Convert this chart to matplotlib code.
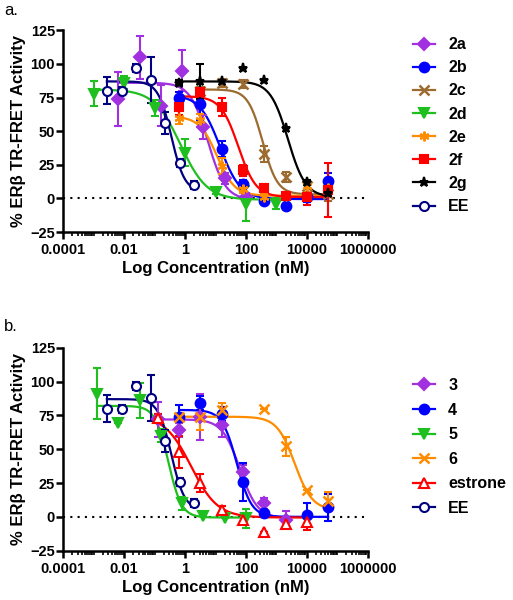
import numpy as np
import matplotlib.pyplot as plt
from matplotlib.lines import Line2D
from matplotlib.ticker import FixedLocator, NullFormatter

plt.rcParams['font.family'] = ['Liberation Sans', 'DejaVu Sans']
plt.rcParams['font.weight'] = 'bold'

# ---- panel a data: concentration (nM), % activity, SD ----
a2a_x = [0.0064, 0.032, 0.16, 0.8, 4, 20, 100]
a2a_y = [74, 105, 69, 95, 53, 15, 1]
a2a_e = [20, 16, 15, 15, 9, 4, 3]

a2b_x = [0.64, 3.2, 16, 80, 400, 2000, 10000, 50000]
a2b_y = [75, 70, 37, 11, -2, -6, 1, 13]
a2b_e = [4, 12, 6, 3, 2, 2, 4, 6]

a2c_x = [3.2, 16, 80, 400, 2000, 10000, 50000]
a2c_y = [80, 86, 85, 33, 16, 9, 3]
a2c_e = [3, 3, 3, 6, 4, 5, 5]

a2d_x = [0.001, 0.01, 0.1, 1, 10, 100, 1000]
a2d_y = [78, 86, 67, 34, 5, -4, -4]
a2d_e = [9, 5, 6, 10, 2, 13, 4]

a2e_x = [0.64, 3.2, 16, 80, 400, 2000, 10000, 50000]
a2e_y = [60, 58, 24, 7, 1, 2, 9, 8]
a2e_e = [5, 5, 6, 3, 2, 2, 4, 5]

a2f_x = [0.64, 3.2, 16, 80, 400, 2000, 10000, 50000]
a2f_y = [68, 79, 68, 21, 8, 1.5, 1, 6]
a2f_e = [6, 8, 7, 4, 3, 3, 6, 20]

a2g_x = [0.64, 3.2, 16, 80, 400, 2000, 10000, 50000]
a2g_y = [86, 87, 87, 97, 88, 52, 12, 4]
a2g_e = [2, 13, 0, 0, 0, 0, 2, 2]

ee_x = [0.0027, 0.0082, 0.025, 0.074, 0.22, 0.67, 2]
ee_y = [80, 80, 97, 88, 56, 26, 10]
ee_e = [10, 3, 3, 17, 8, 3, 3]

# ---- panel b data ----
b3_x = [0.128, 0.64, 3.2, 16, 80, 400, 2000]
b3_y = [72, 64, 74, 68, 33, 10, -2]
b3_e = [13, 5, 17, 9, 5, 4, 6]

b4_x = [0.64, 3.2, 16, 80, 400, 10000, 50000]
b4_y = [74, 84, 76, 26, 2.5, 1.5, 7]
b4_e = [9, 5, 5, 14, 2, 9, 10]

b5_x = [0.00128, 0.0064, 0.032, 0.16, 0.8, 4, 20, 100]
b5_y = [91, 69, 86, 60, 10, 0.5, -1, -1]
b5_e = [19, 0, 13, 5, 5, 0, 0, 7]

b6_x = [0.64, 3.2, 16, 400, 2000, 10000, 50000]
b6_y = [74, 74, 79, 80, 52, 20, 12]
b6_e = [0, 10, 5, 0, 7, 0, 6]

estrone_x = [0.128, 0.64, 3.2, 16, 80, 400, 2000, 10000]
estrone_y = [73, 48, 25, 5, -2, -11, -5, -4]
estrone_e = [3, 12, 7, 3, 3, 0, 3, 6]

# fitted curves: top, bottom, logIC50, hill
fit_2a = [86, -1, 0.75, 1.5]
fit_2b = [77, -0.5, 1.15, 1.3]
fit_2c = [81, 3, 2.55, 1.8]
fit_2d = [81, -1, -0.15, 1.0]
fit_2e = [61, 2, 1.05, 1.5]
fit_2f = [76, 1, 1.75, 1.5]
fit_2g = [87, 1, 3.38, 1.5]
fit_ee = [87, 5, -0.45, 2.0]
fit_3 = [72, -1, 1.8, 1.5]
fit_4 = [79, 0, 1.7, 1.8]
fit_5 = [82, -0.5, -0.55, 2.0]
fit_6 = [74, 5, 3.6, 1.5]
fit_estrone = [75, -0.5, 0.2, 1.0]

purple = '#A030E0'
blue = '#0000FF'
brown = '#9C6B30'
green = '#1FBF1F'
orange = '#FF8C00'
red = '#FF0000'
navy = '#000080'
asterisk = (6, 2, 0)


def logistic(x, top, bot, logic50, hill):
    return bot + (top - bot) / (1 + 10 ** ((np.log10(x) - logic50) * hill))


def draw_series(ax, x, y, e, fit, color, marker, ms, filled=True, mew=1.5):
    xc = np.logspace(np.log10(min(x)), np.log10(max(x)), 300)
    ax.plot(xc, logistic(xc, *fit), color=color, lw=1.6, zorder=2)
    mfc = color if filled else 'white'
    ax.errorbar(x, y, yerr=e, fmt='none', ecolor=color, elinewidth=1.5,
                capsize=3, capthick=1.5, zorder=3)
    ax.plot(x, y, ls='none', marker=marker, ms=ms, color=color, mfc=mfc,
            mec=color, mew=mew, zorder=4)
    return Line2D([], [], color=color, lw=1.6, marker=marker, ms=ms,
                  mfc=mfc, mec=color, mew=mew)


def style_axes(ax):
    ax.set_xscale('log')
    ax.set_xlim(1e-4, 1e6)
    ax.set_ylim(-25, 125)
    ax.axhline(0, color='black', ls=(0, (1, 2.5)), lw=1.5, zorder=1)
    ax.spines['top'].set_visible(False)
    ax.spines['right'].set_visible(False)
    ax.spines['left'].set_linewidth(1.8)
    ax.spines['bottom'].set_linewidth(1.8)
    ax.set_yticks([-25, 0, 25, 50, 75, 100, 125])
    ax.xaxis.set_major_locator(FixedLocator([1e-4, 1e-2, 1, 1e2, 1e4, 1e6]))
    ax.set_xticklabels(['0.0001', '0.01', '1', '100', '10000', '1000000'])
    minors = [m * 10.0 ** d for d in range(-4, 6) for m in range(1, 10)]
    ax.xaxis.set_minor_locator(FixedLocator(minors))
    ax.xaxis.set_minor_formatter(NullFormatter())
    ax.tick_params(which='major', length=5, width=1.8, labelsize=10.5)
    ax.tick_params(axis='x', which='major', pad=3)
    ax.tick_params(axis='y', which='major', pad=1)
    ax.tick_params(which='minor', length=3, width=1.2)
    ax.set_xlabel('Log Concentration (nM)', fontsize=12, fontweight='bold', labelpad=3)
    ax.set_ylabel('% ERβ TR-FRET Activity', fontsize=12, fontweight='bold', labelpad=3)


fig = plt.figure(figsize=(5.13, 6.0), dpi=100)
ax_a = fig.add_axes([0.1234, 0.6133, 0.5934, 0.3362])
ax_b = fig.add_axes([0.1234, 0.0822, 0.5934, 0.3383])

# panel a
h_a = [
    draw_series(ax_a, a2a_x, a2a_y, a2a_e, fit_2a, purple, 'D', 6),
    draw_series(ax_a, a2b_x, a2b_y, a2b_e, fit_2b, blue, 'o', 7),
    draw_series(ax_a, a2c_x, a2c_y, a2c_e, fit_2c, brown, 'x', 7, mew=1.8),
    draw_series(ax_a, a2d_x, a2d_y, a2d_e, fit_2d, green, 'v', 7),
    draw_series(ax_a, a2e_x, a2e_y, a2e_e, fit_2e, orange, asterisk, 7),
    draw_series(ax_a, a2f_x, a2f_y, a2f_e, fit_2f, red, 's', 6),
    draw_series(ax_a, a2g_x, a2g_y, a2g_e, fit_2g, 'black', '*', 6.5),
    draw_series(ax_a, ee_x, ee_y, ee_e, fit_ee, navy, 'o', 6.5, filled=False),
]
style_axes(ax_a)
fig.legend(h_a, ['2a', '2b', '2c', '2d', '2e', '2f', '2g', 'EE'],
           loc='upper left', bbox_to_anchor=(0.805, 0.938), frameon=False,
           fontsize=11.5, handlelength=1.4, handletextpad=0.8,
           labelspacing=0.51, borderpad=0, borderaxespad=0)

# panel b
h_b = [
    draw_series(ax_b, b3_x, b3_y, b3_e, fit_3, purple, 'D', 6),
    draw_series(ax_b, b4_x, b4_y, b4_e, fit_4, blue, 'o', 7),
    draw_series(ax_b, b5_x, b5_y, b5_e, fit_5, green, 'v', 7),
    draw_series(ax_b, b6_x, b6_y, b6_e, fit_6, orange, 'x', 7, mew=1.8),
    draw_series(ax_b, estrone_x, estrone_y, estrone_e, fit_estrone, red, '^', 7, filled=False),
    draw_series(ax_b, ee_x, ee_y, ee_e, fit_ee, navy, 'o', 6.5, filled=False),
]
style_axes(ax_b)
fig.legend(h_b, ['3', '4', '5', '6', 'estrone', 'EE'],
           loc='upper left', bbox_to_anchor=(0.805, 0.370), frameon=False,
           fontsize=11.5, handlelength=1.4, handletextpad=0.8,
           labelspacing=0.6, borderpad=0, borderaxespad=0)

fig.text(0.008, 0.995, 'a.', fontsize=12, fontweight='normal', va='top')
fig.text(0.008, 0.468, 'b.', fontsize=12, fontweight='normal', va='top')

fig.savefig('out.png', dpi=100)
